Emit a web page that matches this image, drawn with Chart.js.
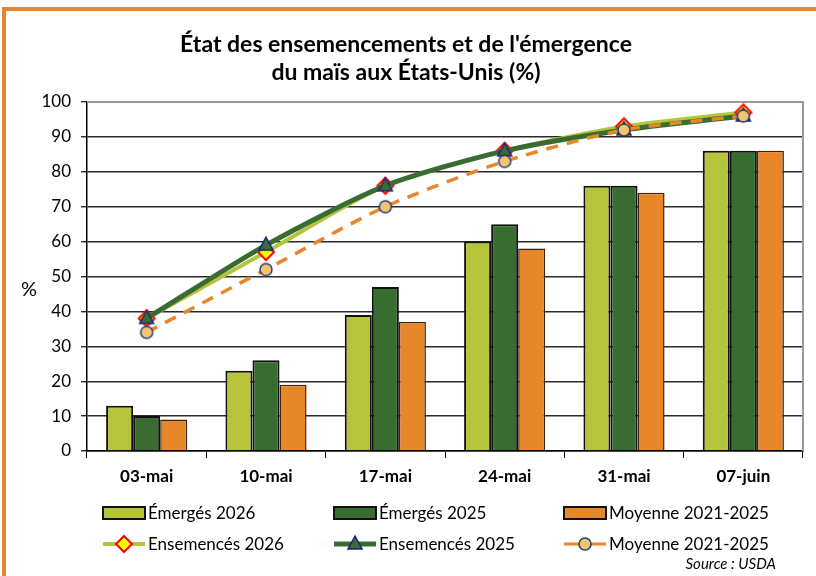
<!DOCTYPE html>
<html>
<head>
<meta charset="utf-8">
<script src="https://cdn.jsdelivr.net/npm/chart.js@4.4.1/dist/chart.umd.min.js"></script>
<style>
  body { margin: 0; background: #fff; }
  #wrap { position: relative; width: 816px; height: 576px; overflow: hidden; }
  #frame { position: absolute; left: 2px; top: 7px; width: 840px; height: 620px; border: 4px solid #e8862a; box-sizing: border-box; }
  #myChart { position: absolute; left: 0; top: 0; }
</style>
</head>
<body>
<div id="wrap">
  <div id="frame"></div>
  <canvas id="myChart" width="816" height="576"></canvas>
</div>
<script>
var weeks = ['03-mai', '10-mai', '17-mai', '24-mai', '31-mai', '07-juin'];
var emerges2026 = [13, 23, 39, 60, 76, 86];
var emerges2025 = [10, 26, 47, 65, 76, 86];
var emergesMoy = [9, 19, 37, 58, 74, 86];
var semes2026 = [38, 57, 76, 86, 93, 97];
var semes2025 = [38, 59, 76, 86, 92, 96];
var semesMoy = [34, 52, 70, 83, 92, 96];

var LIGHT = '#b6c43b', DARK = '#386c31', ORANGE = '#e8862a';
var FONT = 'Lato, "Open Sans", sans-serif';

function drawMarker(ctx, style, x, y) {
    ctx.save();
    if (style === 'diamond') {
        ctx.beginPath();
        ctx.moveTo(x, y - 8); ctx.lineTo(x + 8, y); ctx.lineTo(x, y + 8); ctx.lineTo(x - 8, y); ctx.closePath();
        ctx.fillStyle = '#ffff00'; ctx.fill();
        ctx.lineWidth = 2; ctx.strokeStyle = '#ff0000'; ctx.stroke();
    } else if (style === 'triangle') {
        ctx.beginPath();
        ctx.moveTo(x, y - 8); ctx.lineTo(x + 7, y + 5); ctx.lineTo(x - 7, y + 5); ctx.closePath();
        ctx.fillStyle = DARK; ctx.fill();
        ctx.lineWidth = 1.5; ctx.strokeStyle = '#1a237e'; ctx.stroke();
    } else {
        ctx.beginPath();
        ctx.arc(x, y, 6, 0, Math.PI * 2);
        ctx.fillStyle = '#f6c46e'; ctx.fill();
        ctx.lineWidth = 1.5; ctx.strokeStyle = '#1f3d7a'; ctx.stroke();
    }
    ctx.restore();
}

var decor = {
    id: 'decor',
    beforeDatasetsDraw: function (chart) {
        var ctx = chart.ctx, a = chart.chartArea;
        ctx.save();
        ctx.strokeStyle = '#9a9a9a';
        ctx.lineWidth = 2;
        ctx.beginPath();
        ctx.moveTo(a.left, a.top); ctx.lineTo(a.right, a.top); ctx.lineTo(a.right, a.bottom);
        ctx.stroke();
        ctx.restore();
    },
    afterDraw: function (chart) {
        var ctx = chart.ctx;
        ctx.save();
        ctx.fillStyle = '#000';
        ctx.textAlign = 'center';
        ctx.textBaseline = 'middle';
        ctx.font = 'bold 23px ' + FONT;
        ctx.fillText("État des ensemencements et de l'émergence", 406, 45);
        ctx.fillText('du maïs aux États-Unis (%)', 406, 73);
        ctx.font = '20px ' + FONT;
        ctx.fillText('%', 29, 290);

        // legend
        var cols = [103, 334, 564];
        var bars = [['Émergés 2026', LIGHT], ['Émergés 2025', DARK], ['Moyenne 2021-2025', ORANGE]];
        var lines = [['Ensemencés 2026', LIGHT, 4, 'diamond'],
                     ['Ensemencés 2025', DARK, 5, 'triangle'],
                     ['Moyenne 2021-2025', ORANGE, 3, 'circle']];
        ctx.font = '17px ' + FONT;
        ctx.textAlign = 'left';
        for (var i = 0; i < 3; i++) {
            var x = cols[i];
            ctx.fillStyle = bars[i][1];
            ctx.fillRect(x, 507, 42, 12);
            ctx.lineWidth = 2; ctx.strokeStyle = '#111';
            ctx.strokeRect(x, 507, 42, 12);
            ctx.fillStyle = '#000';
            ctx.fillText(bars[i][0], x + 45, 514);

            ctx.beginPath();
            ctx.moveTo(x, 544); ctx.lineTo(x + 42, 544);
            ctx.lineWidth = lines[i][2]; ctx.strokeStyle = lines[i][1];
            ctx.stroke();
            drawMarker(ctx, lines[i][3], x + 21, 544);
            ctx.fillStyle = '#000';
            ctx.fillText(lines[i][0], x + 45, 545);
        }
        ctx.font = 'italic 15px ' + FONT;
        ctx.textAlign = 'right';
        ctx.fillText('Source : USDA', 776, 564);
        ctx.restore();
    }
};

function markerStyle(kind) {
    var c = document.createElement('canvas');
    c.width = 20; c.height = 20;
    drawMarker(c.getContext('2d'), kind, 10, 10);
    return c;
}

var ctx = document.getElementById('myChart');
var myChart = new Chart(ctx, {
    data: {
        labels: weeks,
        datasets: [
            { type: 'line', label: 'Moyenne 2021-2025 (ens.)', data: semesMoy, order: 1,
              borderColor: ORANGE, borderWidth: 3.5, borderDash: [12, 9], tension: 0.25,
              pointStyle: markerStyle('circle'), pointRadius: 8 },
            { type: 'line', label: 'Ensemencés 2025', data: semes2025, order: 2,
              borderColor: DARK, borderWidth: 5, tension: 0.25,
              pointStyle: markerStyle('triangle'), pointRadius: 8 },
            { type: 'line', label: 'Ensemencés 2026', data: semes2026, order: 3,
              borderColor: LIGHT, borderWidth: 4, tension: 0.25,
              pointStyle: markerStyle('diamond'), pointRadius: 8 },
            { type: 'bar', label: 'Émergés 2026', data: emerges2026, order: 10,
              backgroundColor: LIGHT, borderColor: '#111', borderWidth: 2,
              barPercentage: 1, categoryPercentage: 0.68 },
            { type: 'bar', label: 'Émergés 2025', data: emerges2025, order: 10,
              backgroundColor: DARK, borderColor: '#111', borderWidth: 2,
              barPercentage: 1, categoryPercentage: 0.68 },
            { type: 'bar', label: 'Moyenne 2021-2025', data: emergesMoy, order: 10,
              backgroundColor: ORANGE, borderColor: '#3a2410', borderWidth: 1.5,
              barPercentage: 1, categoryPercentage: 0.68 }
        ]
    },
    options: {
        responsive: false,
        animation: false,
        layout: { padding: { left: 0, top: 102, right: 10, bottom: 0 } },
        plugins: {
            legend: { display: false },
            title: { display: false },
            tooltip: { enabled: false }
        },
        scales: {
            x: {
                afterFit: function (s) { s.height = 125; },
                grid: { drawOnChartArea: false, tickLength: 7, color: '#000', lineWidth: 1 },
                border: { color: '#000', width: 1.5 },
                ticks: { color: '#000', font: { family: FONT, size: 17, weight: 'bold' }, padding: 8 }
            },
            y: {
                min: 0, max: 100,
                afterFit: function (s) { s.width = 87; },
                grid: { color: '#2a2a2a', lineWidth: 1.4, tickLength: 6 },
                border: { color: '#000', width: 1.5 },
                ticks: { stepSize: 10, color: '#000', font: { family: FONT, size: 17 }, padding: 10 }
            }
        }
    },
    plugins: [decor]
});
</script>
</body>
</html>
